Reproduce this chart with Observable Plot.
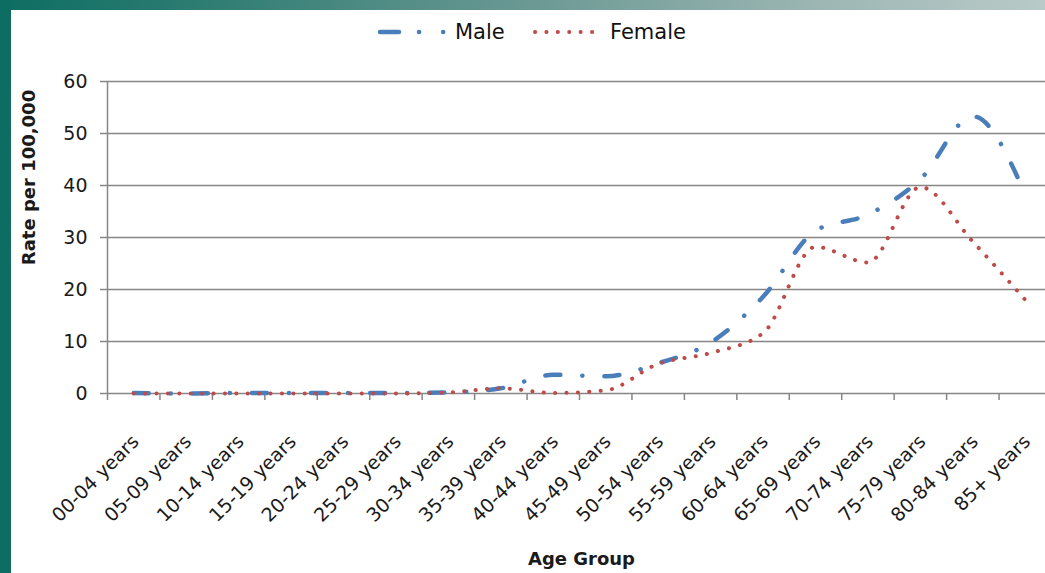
<!DOCTYPE html>
<html>
<head>
<meta charset="utf-8">
<script src="https://cdn.jsdelivr.net/npm/d3@7"></script>
<script src="https://cdn.jsdelivr.net/npm/@observablehq/plot@0.6"></script>
<style>
  html, body { margin: 0; padding: 0; background: #ffffff; overflow: hidden; }
  #wrap { position: relative; width: 1045px; height: 573px; overflow: hidden; background: #fff; font-family: "DejaVu Sans", sans-serif; }
  #leftbar { position: absolute; left: 0; top: 0; width: 11px; height: 573px; background: #0d6d62; z-index: 3; }
  #topbar { position: absolute; left: 0; top: 0; width: 1045px; height: 10px; z-index: 3;
    background: linear-gradient(to right, #0d6d62 0%, #2f7d73 20%, #6a9893 50%, #9fb8b5 80%, #b9cac8 100%); }
  #chart { position: absolute; left: 0; top: 0; }
  .legend { position: absolute; top: 19px; height: 26px; display: flex; align-items: center; font-size: 21px; color: #111; z-index: 2; }
  .legend svg { display: block; }
</style>
</head>
<body>
<div id="wrap">
  <div id="topbar"></div>
  <div id="leftbar"></div>
  <div id="chart"></div>
  <div class="legend" id="legMale" style="left:376px;"></div>
  <div class="legend" id="legFemale" style="left:531px;"></div>
</div>
<script>
// ---- data ----
const ageGroups = ["00-04 years","05-09 years","10-14 years","15-19 years","20-24 years","25-29 years",
  "30-34 years","35-39 years","40-44 years","45-49 years","50-54 years","55-59 years","60-64 years",
  "65-69 years","70-74 years","75-79 years","80-84 years","85+ years"];
const maleRate   = [0.1, 0.0, 0.1, 0.1, 0.1, 0.1, 0.2, 1.0, 3.6, 3.3, 5.8, 9.8, 18.6, 31.3, 34.4, 41.2, 53.3, 38.3];
const femaleRate = [0.0, 0.0, 0.0, 0.0, 0.0, 0.0, 0.2, 1.0, 0.1, 0.6, 5.7, 7.8, 11.6, 28.2, 25.2, 39.7, 29.2, 18.0];
const yTicks = [0, 10, 20, 30, 40, 50, 60];
const seriesNames = ["Male", "Female"];
const seriesColors = ["#4a7ebb", "#be4b48"];

const data = ageGroups.map((a, i) => ({i, age: a, male: maleRate[i], female: femaleRate[i]}));
const idx = d3.range(ageGroups.length);
const bounds = d3.range(ageGroups.length + 1).map(i => i - 0.5);

const maleDash = "15,22,0.1,22";
const femaleDash = "0.1,11.3";
const grid = "#868686";

const chart = Plot.plot({
  width: 1045,
  height: 573,
  marginLeft: 107,
  marginRight: 0,
  marginTop: 81,
  marginBottom: 180,
  style: {fontFamily: "DejaVu Sans, sans-serif", fontSize: "18px", color: "#1a1a1a", background: "transparent", overflow: "visible"},
  x: {type: "linear", domain: [-0.5, ageGroups.length - 0.5], range: [107, 1051]},
  y: {domain: [0, 60], range: [393, 81]},
  marks: [
    Plot.ruleY(yTicks, {stroke: grid, strokeWidth: 1.5}),
    Plot.ruleX([-0.5], {stroke: grid, strokeWidth: 1.5}),
    Plot.axisY(yTicks, {tickSize: 7, tickPadding: 13, stroke: grid, strokeWidth: 1.5, label: null, fontSize: 19, tickFormat: d => d}),
    Plot.axisX(bounds, {tickSize: 7, stroke: grid, strokeWidth: 1.5, tickFormat: () => "", label: null}),
    Plot.axisX(idx, {tickSize: 0, tickFormat: i => ageGroups[i], tickRotate: -45, label: null, fontSize: 19, dx: 2, dy: 33}),
    Plot.line(data, {x: "i", y: "male", stroke: seriesColors[0], strokeWidth: 4.5, strokeDasharray: maleDash, strokeLinecap: "round", curve: "monotone-x"}),
    Plot.line(data, {x: "i", y: "female", stroke: seriesColors[1], strokeWidth: 4, strokeDasharray: femaleDash, strokeLinecap: "round", curve: "monotone-x"}),
    Plot.text(["Age Group"], {frameAnchor: "bottom", dx: 5, dy: 171, fontWeight: "bold", fontSize: 18}),
    Plot.text(["Rate per 100,000"], {frameAnchor: "left", textAnchor: "middle", rotate: -90, dx: -78, dy: -60, fontWeight: "bold", fontSize: 18})
  ]
});
document.getElementById("chart").appendChild(chart);

// legend
function legendItem(el, name, color, dash, width, sw, gap) {
  const s = d3.select(el);
  const svg = s.append("svg").attr("width", width).attr("height", 12);
  svg.append("line").attr("x1", 4).attr("x2", width - 2).attr("y1", 6).attr("y2", 6)
    .attr("stroke", color).attr("stroke-width", sw).attr("stroke-linecap", "round").attr("stroke-dasharray", dash);
  s.append("span").text(name).style("margin-left", gap + "px");
}
legendItem(document.getElementById("legMale"), seriesNames[0], seriesColors[0], "19,20,0.1,24,0.1,100", 77, 4.5, 2);
legendItem(document.getElementById("legFemale"), seriesNames[1], seriesColors[1], "0.1,11.3", 68, 4, 11);
</script>
</body>
</html>
